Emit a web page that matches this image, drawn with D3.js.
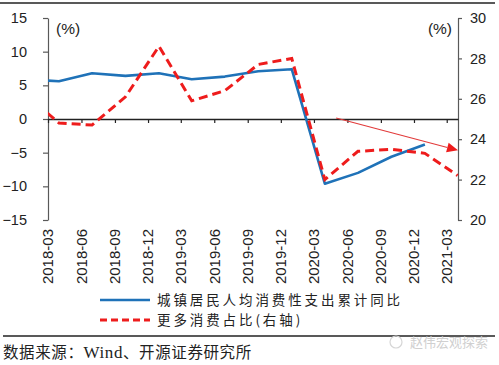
<!DOCTYPE html>
<html><head><meta charset="utf-8">
<script src="https://cdn.jsdelivr.net/npm/d3@7"></script>
<style>
body{margin:0;background:#fff;}
svg{display:block;}
</style></head>
<body><svg id="c" width="499" height="365"></svg>
<script>
// ---- data ----
const quarterDates = ["2017-12-31","2018-03-31","2018-06-30","2018-09-30","2018-12-31","2019-03-31","2019-06-30","2019-09-30","2019-12-31","2020-03-31","2020-06-30","2020-09-30","2020-12-31","2021-03-31"];
const consumptionGrowth = [5.9,5.6,6.8,6.4,6.8,5.9,6.3,7.1,7.4,-9.6,-8.0,-5.6,-3.8];           // left axis, %
const moreConsumptionShare = [26.2,24.8,24.7,26.1,28.6,25.9,26.4,27.7,28.0,22.0,23.4,23.5,23.3,22.2]; // right axis, %
const tickLabels = ["2018-03","2018-06","2018-09","2018-12","2019-03","2019-06","2019-09","2019-12","2020-03","2020-06","2020-09","2020-12","2021-03"];
const leftTicks = [-15,-10,-5,0,5,10,15];
const rightTicks = [20,22,24,26,28,30];
const seriesNames = ["城镇居民人均消费性支出累计同比","更多消费占比(右轴)"];
const arrowFrom = ["2020-05-01", 25.05];
const arrowTo = ["2021-04-01", 23.45];
const sourceText = ["数据来源：","Wind","、开源证券研究所"];
const watermark = "赵伟宏观探索";

// ---- layout ----
const svg = d3.select("#c");
const L = 48, R = 458, T = 18, B = 220;
const parse = d3.utcParse("%Y-%m-%d");
const x = d3.scaleUtc().domain([parse("2018-03-01"), parse("2021-04-01")]).range([L, R]);
const yL = d3.scaleLinear().domain([-15, 15]).range([B, T]);
const yR = d3.scaleLinear().domain([20, 30]).range([B, T]);
const BLUE = "#1f72b8", RED = "#ee1c1c", AXIS = "#595959";
const FONT = "'Liberation Sans', Arial, sans-serif";
const CJK = "'Noto Sans CJK SC', sans-serif";

// rules
svg.append("line").attr("x1",0).attr("x2",495).attr("y1",3).attr("y2",3).attr("stroke","#222").attr("stroke-width",1.5);
svg.append("line").attr("x1",3).attr("x2",495).attr("y1",336).attr("y2",336).attr("stroke","#222").attr("stroke-width",1.5);

// left axis
const gL = svg.append("g").attr("transform",`translate(${L},0)`)
  .call(d3.axisLeft(yL).tickValues(leftTicks).tickSize(5).tickSizeOuter(0).tickPadding(16));
gL.select(".domain").attr("stroke",AXIS).attr("stroke-width",1.2);
gL.selectAll(".tick line").attr("stroke",AXIS).attr("stroke-width",1.2);
gL.selectAll("text").attr("font-family",FONT).attr("font-size",14.5).attr("fill","#222");

// right axis
const gR = svg.append("g").attr("transform",`translate(${R},0)`)
  .call(d3.axisRight(yR).tickValues(rightTicks).tickSize(4).tickSizeOuter(0).tickPadding(8));
gR.select(".domain").attr("stroke",AXIS).attr("stroke-width",1.2);
gR.selectAll(".tick line").attr("stroke",AXIS).attr("stroke-width",1.2);
gR.selectAll("text").attr("font-family",FONT).attr("font-size",14.5).attr("fill","#222");

// x axis at zero
const tickDates = tickLabels.map(s => parse(s + "-01"));
const gX = svg.append("g").attr("transform",`translate(0,${yL(0)})`)
  .call(d3.axisBottom(x).tickValues(tickDates).tickSize(4).tickSizeOuter(0).tickFormat(""));
gX.select(".domain").attr("stroke","#222").attr("stroke-width",1.3);
gX.selectAll(".tick line").attr("stroke","#222").attr("stroke-width",1.2);

// x labels at bottom, rotated
svg.append("g").selectAll("text").data(tickLabels).join("text")
  .attr("transform", d => `translate(${x(parse(d + "-01"))},${B + 9}) rotate(-90)`)
  .attr("text-anchor","end").attr("dy","0.36em")
  .attr("font-family",FONT).attr("font-size",15).attr("fill","#222")
  .text(d => d);

// unit labels
svg.append("text").attr("x",L + 8).attr("y",T + 16).attr("font-family",FONT).attr("font-size",15.5).attr("fill","#222").text("(%)");
svg.append("text").attr("x",R - 6).attr("y",T + 16).attr("text-anchor","end").attr("font-family",FONT).attr("font-size",15.5).attr("fill","#222").text("(%)");

// clip
svg.append("clipPath").attr("id","plot").append("rect").attr("x",L).attr("y",0).attr("width",R - L + 2).attr("height",300);
const plot = svg.append("g").attr("clip-path","url(#plot)");

const blueLine = d3.line().x((d,i) => x(parse(quarterDates[i]))).y(d => yL(d));
const redLine = d3.line().x((d,i) => x(parse(quarterDates[i]))).y(d => yR(d));

plot.append("path").datum(consumptionGrowth).attr("d",blueLine)
  .attr("fill","none").attr("stroke",BLUE).attr("stroke-width",2.6).attr("stroke-linejoin","round");
plot.append("path").datum(moreConsumptionShare).attr("d",redLine)
  .attr("fill","none").attr("stroke",RED).attr("stroke-width",3).attr("stroke-dasharray","9,5");

// arrow annotation
const ax1 = x(parse(arrowFrom[0])), ay1 = yR(arrowFrom[1]);
const ax2 = x(parse(arrowTo[0])), ay2 = yR(arrowTo[1]);
const ang = Math.atan2(ay2 - ay1, ax2 - ax1);
const headLen = 11, headW = 5;
const bx = ax2 - headLen * Math.cos(ang), by = ay2 - headLen * Math.sin(ang);
svg.append("line").attr("x1",ax1).attr("y1",ay1).attr("x2",bx).attr("y2",by).attr("stroke","#e23a3a").attr("stroke-width",1.1);
svg.append("path")
  .attr("d", `M${ax2},${ay2}L${bx - headW*Math.sin(ang)},${by + headW*Math.cos(ang)}L${bx + headW*Math.sin(ang)},${by - headW*Math.cos(ang)}Z`)
  .attr("fill","#ee1c1c");

// legend
const lg = svg.append("g");
lg.append("line").attr("x1",100).attr("x2",150).attr("y1",300).attr("y2",300).attr("stroke",BLUE).attr("stroke-width",2.6);
lg.append("line").attr("x1",100).attr("x2",150).attr("y1",320).attr("y2",320).attr("stroke",RED).attr("stroke-width",3).attr("stroke-dasharray","7,4");
lg.append("text").attr("x",157).attr("y",300).attr("dy","0.36em").attr("font-family",CJK).attr("font-size",13.5).attr("letter-spacing","2.9px").attr("fill","#222").text(seriesNames[0]);
lg.append("text").attr("x",157).attr("y",320).attr("dy","0.36em").attr("font-family",CJK).attr("font-size",13.5).attr("letter-spacing","2.9px").attr("fill","#222").text(seriesNames[1]);

// source
const st = svg.append("text").attr("x",3).attr("y",352).attr("dy","0.36em").attr("font-size",15.5).attr("fill","#222").attr("letter-spacing","0.6px");
st.append("tspan").attr("font-family",CJK).text(sourceText[0]);
st.append("tspan").attr("font-family","'Liberation Serif', serif").attr("font-size",17).text(sourceText[1]);
st.append("tspan").attr("font-family",CJK).text(sourceText[2]);

// watermark
svg.append("circle").attr("cx",396).attr("cy",342).attr("r",6).attr("fill","none").attr("stroke","#d6d6d6").attr("stroke-width",1.2);
svg.append("text").attr("x",410).attr("y",342).attr("dy","0.36em").attr("font-family",CJK).attr("font-size",13).attr("fill","#d0d0d0").text(watermark);
</script></body></html>
